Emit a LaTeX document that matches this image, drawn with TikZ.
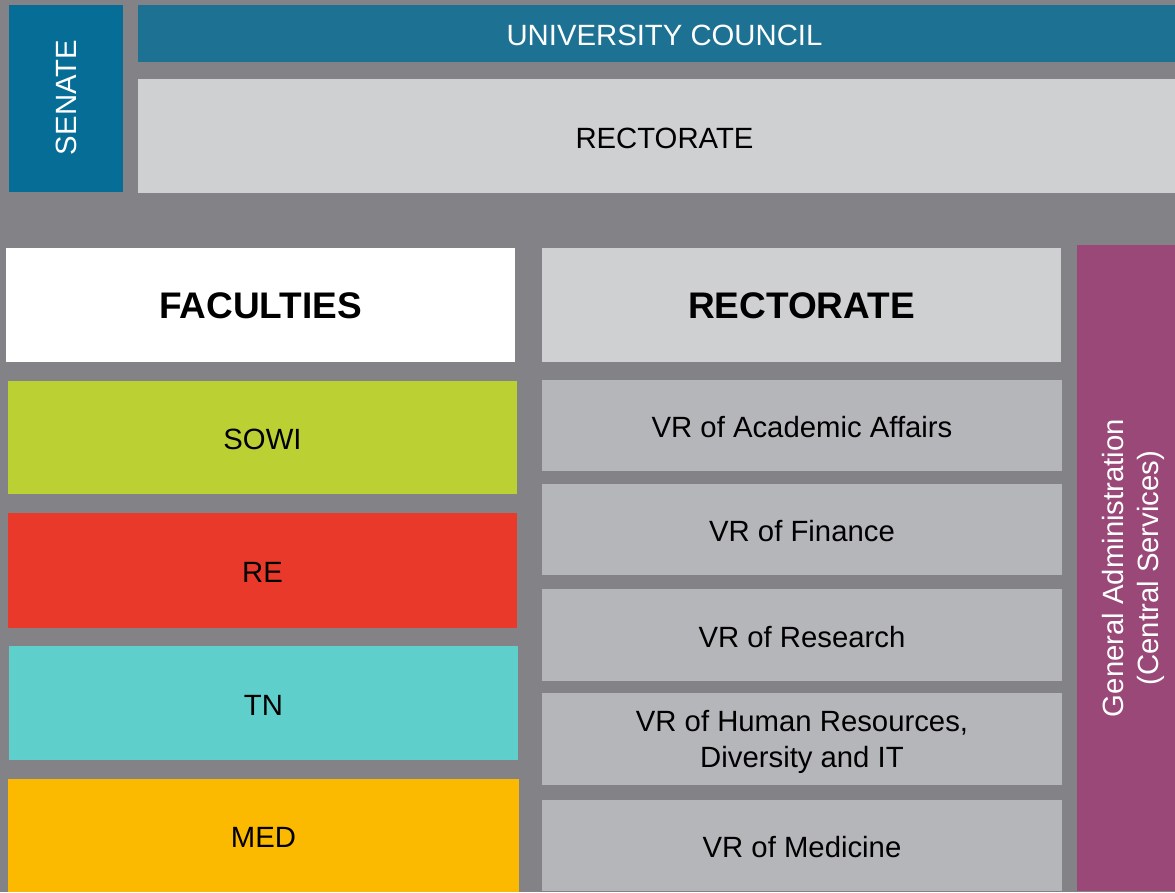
\documentclass[tikz,border=0pt]{standalone}
\usepackage{fontspec}
\setmainfont{Liberation Sans}
\definecolor{bggray}{HTML}{838387}
\definecolor{council}{HTML}{1D7294}
\definecolor{senate}{HTML}{056D96}
\definecolor{lightgray}{HTML}{CFD0D2}
\definecolor{vrgray}{HTML}{B5B6BA}
\definecolor{sowi}{HTML}{BBD033}
\definecolor{re}{HTML}{E8392A}
\definecolor{tn}{HTML}{5ECFCA}
\definecolor{med}{HTML}{FBB900}
\definecolor{admin}{HTML}{9A4878}
\tikzset{
  blk/.style={anchor=north west, inner sep=0pt, outer sep=0pt},
  lbl/.style={inner sep=0pt, align=center, yshift=-2pt, font=\fontsize{29.3}{36}\selectfont},
  blbl/.style={inner sep=0pt, align=center, yshift=-1pt, font=\fontsize{37}{42}\selectfont\bfseries},
}
\begin{document}
\begin{tikzpicture}[x=1pt,y=-1pt]
\fill[bggray] (0,0) rectangle (1175,892);
\useasboundingbox (0,0) rectangle (1175,892);
% top
\node[blk, fill=senate, minimum width=114pt, minimum height=187pt] (senate) at (9,5) {};
\node[lbl, yshift=2pt, rotate=90, text=white, xshift=1pt] (senate-t) at (senate.center) {SENATE};
\node[blk, fill=council, minimum width=1037pt, minimum height=57pt] (council) at (138,5) {};
\node[lbl, text=white, xshift=8pt] (council-t) at (council.center) {UNIVERSITY COUNCIL};
\node[blk, fill=lightgray, minimum width=1037pt, minimum height=114pt] (rect1) at (138,79) {};
\node[lbl, xshift=8pt] (rect1-t) at (rect1.center) {RECTORATE};
% headers
\node[blk, fill=white, minimum width=509pt, minimum height=114pt] (fac) at (6,248) {};
\node[blbl] (fac-t) at (fac.center) {FACULTIES};
\node[blk, fill=lightgray, minimum width=519pt, minimum height=114pt] (rect2) at (542,248) {};
\node[blbl] (rect2-t) at (rect2.center) {RECTORATE};
% faculties
\node[blk, fill=sowi, minimum width=509pt, minimum height=113pt] (sowi) at (8,381) {};
\node[lbl] (sowi-t) at (sowi.center) {SOWI};
\node[blk, fill=re, minimum width=509pt, minimum height=115pt] (re) at (8,513) {};
\node[lbl] (re-t) at (re.center) {RE};
\node[blk, fill=tn, minimum width=509pt, minimum height=114pt] (tn) at (9,646) {};
\node[lbl] (tn-t) at (tn.center) {TN};
\node[blk, fill=med, minimum width=511pt, minimum height=113pt] (med) at (8,779) {};
\node[lbl] (med-t) at (med.center) {MED};
% VRs
\node[blk, fill=vrgray, minimum width=520pt, minimum height=91pt] (vr1) at (542,380) {};
\node[lbl] (vr1-t) at (vr1.center) {VR of Academic Affairs};
\node[blk, fill=vrgray, minimum width=520pt, minimum height=91pt] (vr2) at (542,484) {};
\node[lbl] (vr2-t) at (vr2.center) {VR of Finance};
\node[blk, fill=vrgray, minimum width=520pt, minimum height=92pt] (vr3) at (542,589) {};
\node[lbl] (vr3-t) at (vr3.center) {VR of Research};
\node[blk, fill=vrgray, minimum width=520pt, minimum height=92pt] (vr4) at (542,693) {};
\node[lbl, yshift=-1pt] (vr4-t) at (vr4.center) {VR of Human Resources,\\Diversity and IT};
\node[blk, fill=vrgray, minimum width=520pt, minimum height=91pt] (vr5) at (542,800) {};
\node[lbl] (vr5-t) at (vr5.center) {VR of Medicine};
% admin
\node[blk, fill=admin, minimum width=98pt, minimum height=646pt] (admin) at (1077,245) {};
\node[lbl, yshift=2pt, rotate=90, text=white, font=\fontsize{29.3}{35}\selectfont] (admin-t) at ([xshift=7pt]admin.center) {General Administration\\(Central Services)};
\end{tikzpicture}
\end{document}
